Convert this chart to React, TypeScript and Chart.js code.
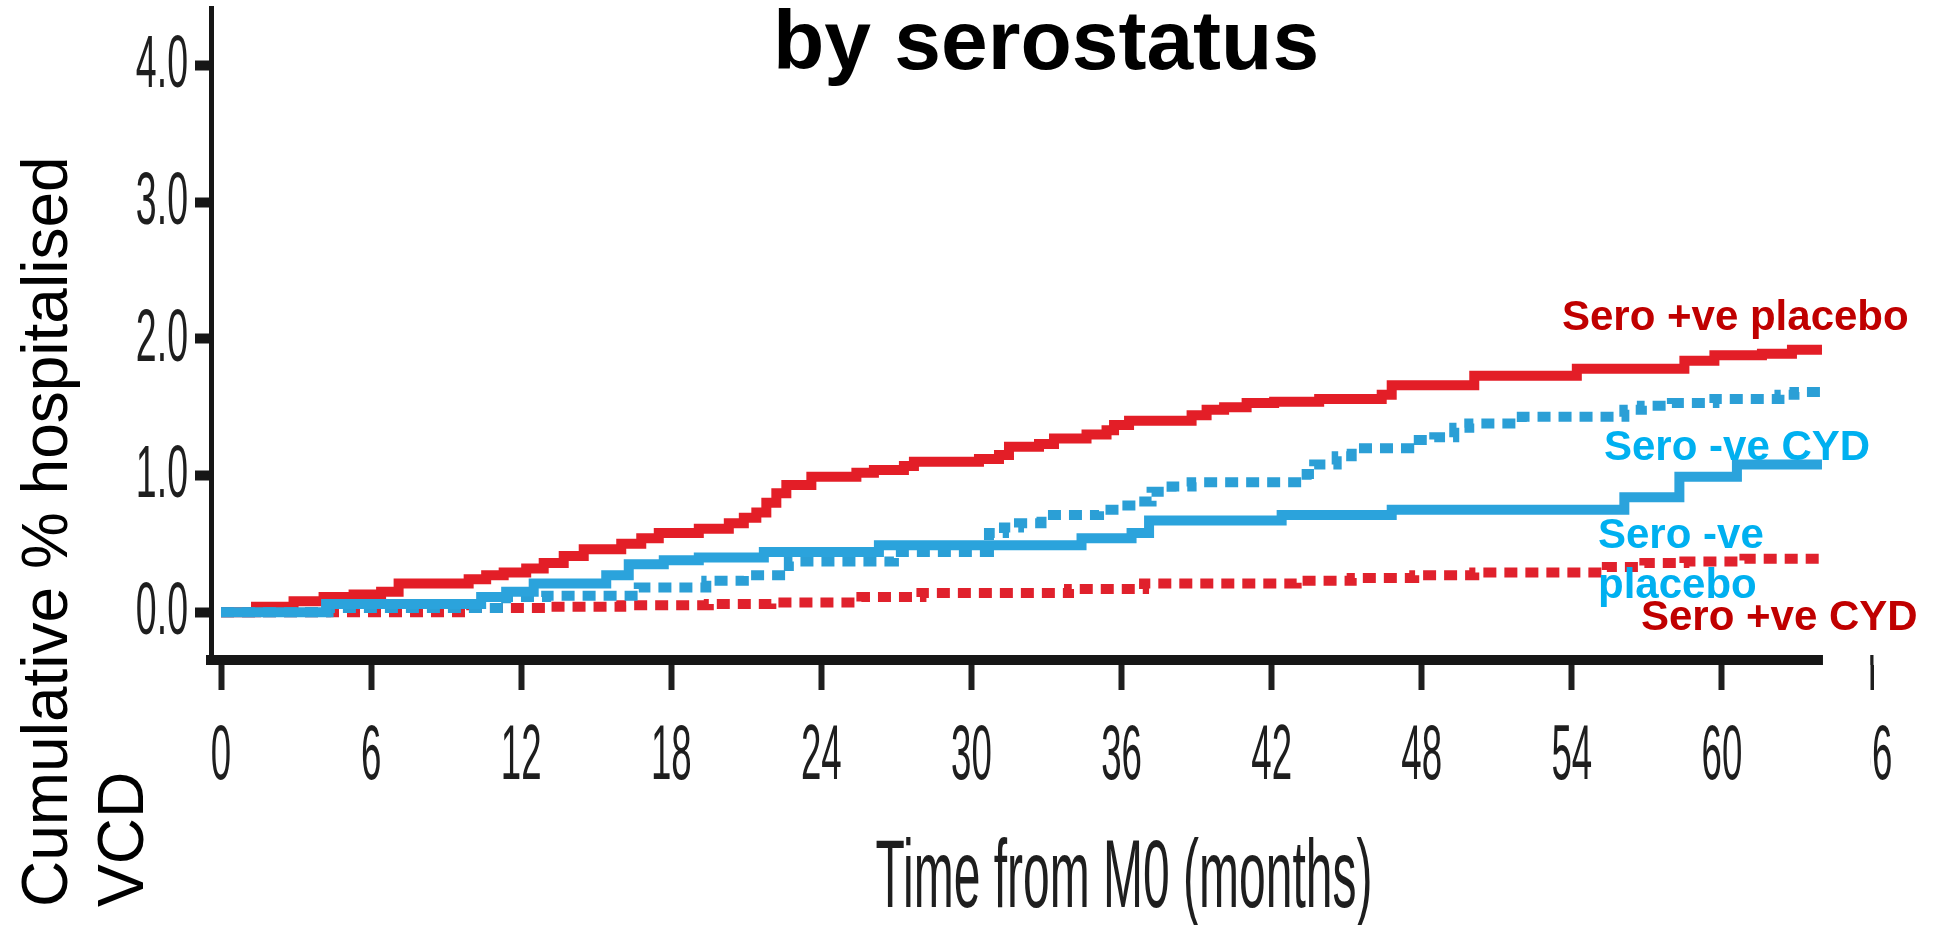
import React, { useEffect, useRef } from "react";
import { Chart, registerables } from "chart.js";

Chart.register(...registerables);

// ---- Data (months from M0, cumulative % hospitalised VCD) ----
const seroPosPlaceboT = [0, 1.4, 2.9, 4.1, 5.3, 6.4, 7.1, 9.9, 10.6, 11.3, 12.2, 12.9, 13.7, 14.5, 16.0, 16.8, 17.5, 19.1, 20.3, 20.9, 21.4, 21.8, 22.2, 22.6, 23.6, 25.4, 26.1, 27.3, 27.7, 30.3, 31.1, 31.5, 32.7, 33.3, 34.6, 35.4, 35.7, 36.3, 38.8, 39.4, 40.1, 41.0, 42.1, 43.9, 46.4, 46.8, 50.1, 54.2, 58.5, 59.7, 61.6, 62.8, 64];
const seroPosPlaceboV = [0, 0.04, 0.08, 0.11, 0.13, 0.15, 0.21, 0.24, 0.27, 0.29, 0.32, 0.36, 0.41, 0.46, 0.50, 0.54, 0.58, 0.61, 0.65, 0.69, 0.73, 0.80, 0.87, 0.93, 0.99, 1.02, 1.04, 1.07, 1.10, 1.12, 1.15, 1.21, 1.23, 1.27, 1.30, 1.33, 1.37, 1.40, 1.44, 1.48, 1.50, 1.53, 1.54, 1.56, 1.59, 1.66, 1.73, 1.78, 1.84, 1.88, 1.89, 1.92, 1.92];

const seroPosCydT = [0, 10, 13, 16, 19.5, 22, 25.6, 28, 33.9, 36.9, 43.0, 45.2, 47.7, 50.1, 55.4, 56.9, 58.5, 60.9, 64];
const seroPosCydV = [0, 0.03, 0.04, 0.05, 0.06, 0.07, 0.11, 0.14, 0.17, 0.21, 0.23, 0.25, 0.27, 0.29, 0.33, 0.36, 0.37, 0.39, 0.39];

const seroNegPlaceboT = [0, 4.2, 10.4, 11.4, 12.5, 15.4, 16.3, 17.7, 19.1, 21.7, 26.3, 34.4, 36.4, 37.1, 42.4, 46.8, 56.1, 58.3, 60.6, 64];
const seroNegPlaceboV = [0, 0.06, 0.11, 0.15, 0.21, 0.27, 0.35, 0.38, 0.40, 0.44, 0.49, 0.54, 0.58, 0.67, 0.71, 0.75, 0.84, 0.99, 1.08, 1.08];

const seroNegCydT = [0, 4.3, 11.4, 13.0, 16.7, 19.4, 20.9, 22.7, 26.9, 30.7, 31.3, 31.9, 32.8, 35.1, 35.9, 36.6, 37.2, 38.0, 38.8, 43.4, 43.7, 44.6, 45.2, 47.5, 48.5, 49.3, 49.9, 52.0, 56.1, 56.8, 58.0, 59.7, 62.3, 62.9, 64];
const seroNegCydV = [0, 0.03, 0.11, 0.12, 0.18, 0.23, 0.27, 0.37, 0.44, 0.58, 0.62, 0.65, 0.71, 0.75, 0.78, 0.81, 0.88, 0.92, 0.95, 1.01, 1.08, 1.14, 1.20, 1.26, 1.28, 1.35, 1.38, 1.43, 1.48, 1.51, 1.53, 1.56, 1.59, 1.61, 1.61];

const xTickValues = [0, 6, 12, 18, 24, 30, 36, 42, 48, 54, 60, 66];
const xTickLabels = ["0", "6", "12", "18", "24", "30", "36", "42", "48", "54", "60", "66"];
const yTickValues = [0, 1, 2, 3, 4];
const yTickLabels = ["0.0", "1.0", "2.0", "3.0", "4.0"];

const titleText = "by serostatus";
const yTitleLines = ["Cumulative % hospitalised", "VCD"];
const xTitleText = "Time from M0 (months)";

const FONT = '"Liberation Sans", Arial, Helvetica, sans-serif';
const DARK_RED = "#c00000";
const CYAN = "#00b0f0";

const pts = (t: number[], v: number[]) => t.map((x, i) => ({ x, y: v[i] }));

const slidePlugin = {
  id: "slideText",
  afterDraw(chart: any) {
    const ctx: CanvasRenderingContext2D = chart.ctx;
    const xs = chart.scales.x;
    const ys = chart.scales.y;
    ctx.save();

    // x tick labels (condensed)
    ctx.fillStyle = "#1e1e1e";
    ctx.font = `78px ${FONT}`;
    ctx.textAlign = "center";
    ctx.textBaseline = "alphabetic";
    xTickValues.forEach((v, i) => {
      const px = xs.getPixelForValue(v);
      ctx.save();
      ctx.translate(px, 779);
      ctx.scale(0.47, 1);
      ctx.fillText(xTickLabels[i], 0, 0);
      ctx.restore();
    });

    // y tick labels (condensed)
    ctx.font = `75px ${FONT}`;
    ctx.textAlign = "right";
    yTickValues.forEach((v, i) => {
      const py = ys.getPixelForValue(v);
      ctx.save();
      ctx.translate(188, py + 22);
      ctx.scale(0.5, 1);
      ctx.fillText(yTickLabels[i], 0, 0);
      ctx.restore();
    });

    // white cover over end of axis
    const m0 = xs.getPixelForValue(64) + 1;
    const m1 = xs.getPixelForValue(66) - 1.5;
    ctx.fillStyle = "#ffffff";
    ctx.fillRect(m0, 640, m1 - m0, 160);
    // thin last tick
    ctx.strokeStyle = "#1e1e1e";
    ctx.lineWidth = 3;
    ctx.beginPath();
    ctx.moveTo(xs.getPixelForValue(66), 655);
    ctx.lineTo(xs.getPixelForValue(66), 690);
    ctx.stroke();

    // title
    ctx.fillStyle = "#000000";
    ctx.font = `bold 84px ${FONT}`;
    ctx.textAlign = "center";
    ctx.fillText(titleText, 1046, 69);

    // x axis title (condensed)
    ctx.fillStyle = "#1e1e1e";
    ctx.font = `96px ${FONT}`;
    ctx.save();
    ctx.translate(1124, 907);
    ctx.scale(0.5, 1);
    ctx.fillText(xTitleText, 0, 0);
    ctx.restore();

    // y axis title (rotated, two lines)
    ctx.fillStyle = "#000000";
    ctx.font = `64px ${FONT}`;
    ctx.textAlign = "left";
    const baseX = [67, 143];
    yTitleLines.forEach((line, i) => {
      ctx.save();
      ctx.translate(baseX[i], 907);
      ctx.rotate(-Math.PI / 2);
      ctx.fillText(line, 0, 0);
      ctx.restore();
    });

    // annotations
    ctx.font = `bold 42px ${FONT}`;
    ctx.textAlign = "left";
    ctx.fillStyle = DARK_RED;
    ctx.fillText("Sero +ve placebo", 1562, 330);
    ctx.fillStyle = CYAN;
    ctx.fillText("Sero -ve CYD", 1604, 460);
    ctx.fillText("Sero -ve", 1598, 548);
    ctx.fillText("placebo", 1598, 598);
    ctx.fillStyle = DARK_RED;
    ctx.fillText("Sero +ve CYD", 1641, 630);

    ctx.restore();
  },
};

export default function App() {
  const canvasRef = useRef<HTMLCanvasElement | null>(null);

  useEffect(() => {
    if (!canvasRef.current) return;
    const chart = new Chart(canvasRef.current, {
      type: "line",
      data: {
        datasets: [
          {
            label: "Sero -ve placebo",
            data: pts(seroNegPlaceboT, seroNegPlaceboV),
            borderColor: "#2ba3dc",
            borderWidth: 10,
            stepped: true,
            pointRadius: 0,
            fill: false,
          },
          {
            label: "Sero -ve CYD",
            data: pts(seroNegCydT, seroNegCydV),
            borderColor: "#2b9fd6",
            borderWidth: 10,
            borderDash: [13, 8],
            stepped: true,
            pointRadius: 0,
            fill: false,
          },
          {
            label: "Sero +ve placebo",
            data: pts(seroPosPlaceboT, seroPosPlaceboV),
            borderColor: "#e31e27",
            borderWidth: 10,
            stepped: true,
            pointRadius: 0,
            fill: false,
          },
          {
            label: "Sero +ve CYD",
            data: pts(seroPosCydT, seroPosCydV),
            borderColor: "#e0212c",
            borderWidth: 10,
            borderDash: [13, 8],
            stepped: true,
            pointRadius: 0,
            fill: false,
          },
        ],
      },
      options: {
        responsive: false,
        animation: false,
        layout: { padding: { top: 8, right: 64, left: 0, bottom: 0 } },
        plugins: {
          legend: { display: false },
          tooltip: { enabled: false },
          title: { display: false },
        },
        scales: {
          x: {
            type: "linear",
            min: -0.4,
            max: 66,
            afterBuildTicks: (s: any) => {
              s.ticks = xTickValues.map((v) => ({ value: v }));
            },
            afterFit: (s: any) => {
              s.height = 265;
            },
            ticks: { display: false },
            grid: {
              display: true,
              drawOnChartArea: false,
              drawTicks: true,
              tickLength: 30,
              tickColor: "#1e1e1e",
              tickWidth: (c: any) => (c.tick && c.tick.value === 66 ? 3 : 6),
            },
            border: { display: true, width: 10, color: "#161616" },
          },
          y: {
            type: "linear",
            min: -0.35,
            max: 4.42,
            afterBuildTicks: (s: any) => {
              s.ticks = yTickValues.map((v) => ({ value: v }));
            },
            afterFit: (s: any) => {
              s.width = 211;
            },
            ticks: { display: false },
            grid: {
              display: true,
              drawOnChartArea: false,
              drawTicks: true,
              tickLength: 16,
              tickColor: "#161616",
              tickWidth: 10,
            },
            border: { display: true, width: 5, color: "#161616" },
          },
        },
      },
      plugins: [slidePlugin],
    } as any);
    return () => chart.destroy();
  }, []);

  return (
    <div style={{ position: "fixed", left: 0, top: 0, width: 1936, height: 925, background: "#ffffff" }}>
      <canvas ref={canvasRef} width={1936} height={925} style={{ display: "block" }} />
    </div>
  );
}
